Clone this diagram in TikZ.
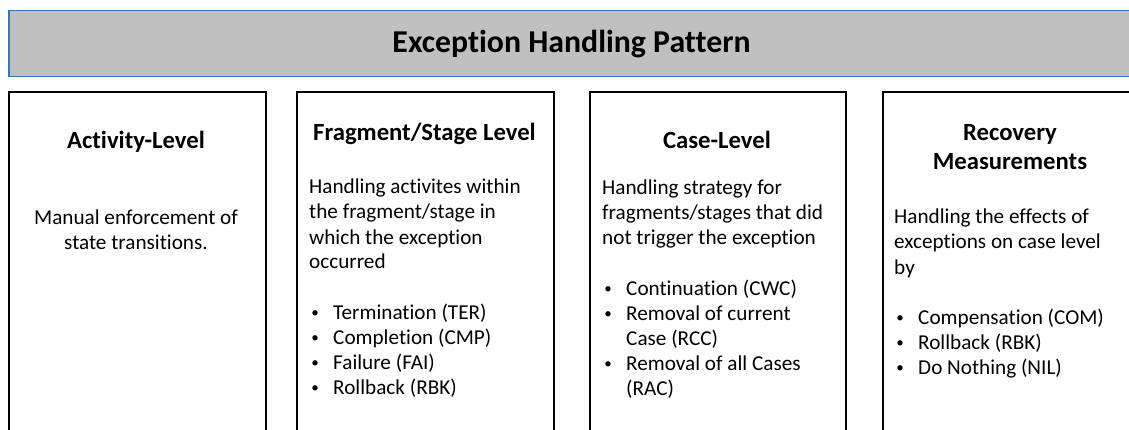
\documentclass[tikz,border=0pt]{standalone}
\usepackage{fontspec}
\setmainfont{Carlito}[Ligatures=NoCommon]
\definecolor{titlegray}{RGB}{192,192,192}
\definecolor{titleblue}{RGB}{68,114,172}
\tikzset{
  panel/.style={draw=black, line width=2pt, fill=white, anchor=north west, inner sep=0pt},
  titlebox/.style={draw=titleblue, line width=1.5pt, fill=titlegray, anchor=north west, inner sep=0pt},
  titletext/.style={font=\fontsize{31.8}{38}\selectfont\bfseries, anchor=base, inner sep=0pt},
  head/.style={font=\fontsize{24.7}{29}\selectfont\bfseries, anchor=base, inner sep=0pt},
  body/.style={font=\fontsize{21.2}{25}\selectfont, anchor=base west, inner sep=0pt},
  bodyc/.style={font=\fontsize{21.2}{25}\selectfont, anchor=base, inner sep=0pt},
  bul/.style={font=\fontsize{15}{18}\selectfont, anchor=base, inner sep=0pt, yshift=2pt},
}
\begin{document}
\begin{tikzpicture}[x=1pt,y=-1pt]
\useasboundingbox (0,0) rectangle (1129,430);
\clip (0,0) rectangle (1129,430);
% title
\node[titlebox, minimum width=1160pt, minimum height=66pt] (title) at (8,10) {};
\node[titletext] (titlet) at (571.5,53) {Exception Handling Pattern};
% panels
\node[panel, minimum width=257pt, minimum height=360pt] (p1) at (8,91) {};
\node[panel, minimum width=257pt, minimum height=360pt] (p2) at (296,91) {};
\node[panel, minimum width=256pt, minimum height=360pt] (p3) at (589,91) {};
\node[panel, minimum width=280pt, minimum height=360pt] (p4) at (882,91) {};
% panel 1
\node[head] (h1) at (136,149) {Activity-Level};
\node[bodyc] (a1) at (136,225) {Manual enforcement of};
\node[bodyc] (a2) at (136,250) {state transitions.};
% panel 2
\node[head] (h2) at (424.5,141) {Fragment/Stage Level};
\node[body] (b1) at (309,194) {Handling activites within};
\node[body] (b2) at (309,219) {the fragment/stage in};
\node[body] (b3) at (309,244) {which the exception};
\node[body] (b4) at (309,269) {occurred};
\node[bul] (bb1) at (315,319) {\textbullet};
\node[body] (b5) at (333,319) {Termination (TER)};
\node[bul] (bb2) at (315,344) {\textbullet};
\node[body] (b6) at (333,344) {Completion (CMP)};
\node[bul] (bb3) at (315,369) {\textbullet};
\node[body] (b7) at (333,369) {Failure (FAI)};
\node[bul] (bb4) at (315,394) {\textbullet};
\node[body] (b8) at (333,394) {Rollback (RBK)};
% panel 3
\node[head] (h3) at (717,149) {Case-Level};
\node[body] (c1) at (602,195) {Handling strategy for};
\node[body] (c2) at (602,220) {fragments/stages that did};
\node[body] (c3) at (602,245) {not trigger the exception};
\node[bul] (cb1) at (608,295) {\textbullet};
\node[body] (c4) at (626,295) {Continuation (CWC)};
\node[bul] (cb2) at (608,320) {\textbullet};
\node[body] (c5) at (626,320) {Removal of current};
\node[body] (c6) at (626,345) {Case (RCC)};
\node[bul] (cb3) at (608,370) {\textbullet};
\node[body] (c7) at (626,370) {Removal of all Cases};
\node[body] (c8) at (626,395) {(RAC)};
% panel 4
\node[head] (h4a) at (1010,141) {Recovery};
\node[head] (h4b) at (1010,170) {Measurements};
\node[body] (d1) at (894,224) {Handling the effects of};
\node[body] (d2) at (894,249) {exceptions on case level};
\node[body] (d3) at (894,274) {by};
\node[bul] (db1) at (900,324) {\textbullet};
\node[body] (d4) at (918,324) {Compensation (COM)};
\node[bul] (db2) at (900,349) {\textbullet};
\node[body] (d5) at (918,349) {Rollback (RBK)};
\node[bul] (db3) at (900,374) {\textbullet};
\node[body] (d6) at (918,374) {Do Nothing (NIL)};
\end{tikzpicture}
\end{document}
